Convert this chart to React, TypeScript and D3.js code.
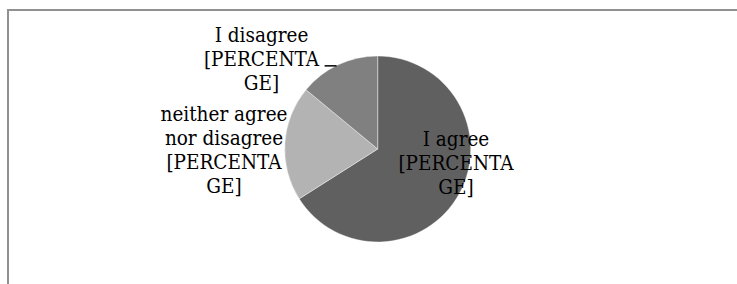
import React from "react";
import * as d3 from "d3";

const categories = ["I agree", "neither agree nor disagree", "I disagree"];
const values = [66, 20, 14];
const labelLines = [
  ["I agree", "[PERCENTA", "GE]"],
  ["neither agree", "nor disagree", "[PERCENTA", "GE]"],
  ["I disagree", "[PERCENTA", "GE]"],
];

const colors = ["#606060", "#b3b3b3", "#808080"];
// label centre positions (layout, not data)
const labelPos = [
  { x: 456, y: 162.5 },
  { x: 224, y: 150 },
  { x: 261.5, y: 59 },
];

const W = 737;
const H = 284;
const cx = 377.7;
const cy = 149;
const R = 93;
const lineH = 24;
const fontSize = 20.5;

export default function App() {
  const pie = d3
    .pie<number>()
    .sort(null)
    .value((d) => d);
  const arcs = pie(values);
  const arc = d3.arc<d3.PieArcDatum<number>>().innerRadius(0).outerRadius(R);

  const dis = arcs[2];
  const mid = (dis.startAngle + dis.endAngle) / 2;
  const edgeX = cx + R * Math.sin(mid);
  const edgeY = cy - R * Math.cos(mid);

  return (
    <svg
      width={W}
      height={H}
      style={{ position: "absolute", left: 0, top: 0, background: "#fff" }}
    >
      <rect x={0} y={0} width={W} height={H} fill="#fff" />
      <rect
        x={8}
        y={10}
        width={W + 20}
        height={H + 20}
        fill="none"
        stroke="#919191"
        strokeWidth={2}
      />
      <g transform={`translate(${cx},${cy})`}>
        {arcs.map((a, i) => (
          <path
            key={categories[i]}
            d={arc(a) || ""}
            fill={colors[i]}
            stroke="#ffffff"
            strokeWidth={0.4}
          />
        ))}
      </g>
      <line
        x1={edgeX - 13.5}
        x2={edgeX - 1.5}
        y1={edgeY + 1}
        y2={edgeY + 1}
        stroke="#000"
        strokeWidth={1.5}
      />
      {labelLines.map((lines, i) => {
        const p = labelPos[i];
        const n = lines.length;
        return (
          <text
            key={categories[i]}
            fontFamily="'DejaVu Serif Condensed', 'DejaVu Serif'"
            fontStretch="condensed"
            fontSize={fontSize}
            fill="#000"
            textAnchor="middle"
          >
            {lines.map((t, j) => (
              <tspan
                key={j}
                x={p.x}
                y={p.y + (j - (n - 1) / 2) * lineH + 7}
              >
                {t}
              </tspan>
            ))}
          </text>
        );
      })}
    </svg>
  );
}
